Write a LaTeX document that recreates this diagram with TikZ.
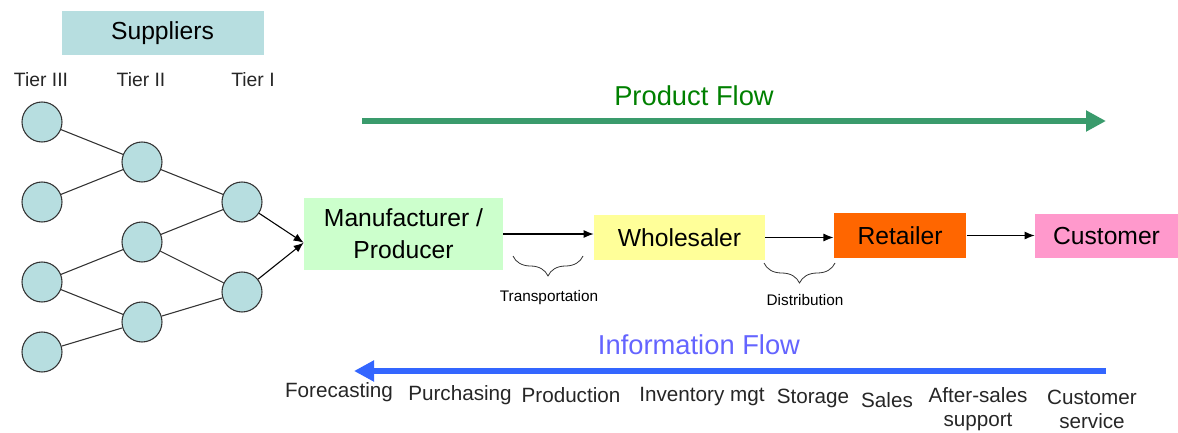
\documentclass[tikz,border=0pt]{standalone}
\usepackage{fontspec}
\setmainfont{Liberation Sans}
\usepackage{tikz}
\usetikzlibrary{arrows,arrows.meta,decorations.pathreplacing}
\definecolor{supblue}{HTML}{B7DEE0}
\definecolor{mangreen}{HTML}{CCFFCC}
\definecolor{wsyellow}{HTML}{FFFF99}
\definecolor{retorange}{HTML}{FF6600}
\definecolor{custpink}{HTML}{FF99CC}
\definecolor{prodarrow}{HTML}{3A9B6C}
\definecolor{prodtext}{HTML}{008000}
\definecolor{infoarrow}{HTML}{3366FF}
\definecolor{infotext}{HTML}{6464FF}

\begin{document}
\begin{tikzpicture}[x=0.75pt,y=-0.75pt,>={Latex[length=7.5pt,width=6pt]},line width=0.8pt]
  \tikzstyle{tier}=[circle,draw=black!80,fill=supblue,minimum size=30pt,inner sep=0pt]
  \tikzstyle{party}=[rectangle,inner sep=0pt,align=center,font=\fontsize{18.5}{24}\selectfont]
  \tikzstyle{tierlabel}=[font=\fontsize{14.5}{17}\selectfont,text=black!85]
  \tikzstyle{task}=[align=center,font=\fontsize{15.5}{18}\selectfont,text=black!85]
  \tikzstyle{gap}=[font=\fontsize{11.5}{13}\selectfont]
  \tikzstyle{flow}=[line width=4.5pt,-{Triangle[length=15pt,width=15pt]}]
  \useasboundingbox (0,0) rectangle (1178,432);

  % suppliers network
  \node[party,fill=supblue,minimum width=151.5pt,minimum height=33pt] (sup) at (162.5,33) {Suppliers};
  \node[tierlabel] (l3) at (41,80) {Tier III};
  \node[tierlabel] (l2) at (141,80) {Tier II};
  \node[tierlabel] (l1) at (253,80) {Tier I};

  \node[tier] (t3a) at (42,122) {};
  \node[tier] (t3b) at (42,202) {};
  \node[tier] (t3c) at (42,282) {};
  \node[tier] (t3d) at (42,352) {};
  \node[tier] (t2a) at (142,162) {};
  \node[tier] (t2b) at (142,242) {};
  \node[tier] (t2c) at (142,322) {};
  \node[tier] (t1a) at (242,202) {};
  \node[tier] (t1b) at (242,292) {};

  % chain
  \node[party,fill=mangreen,minimum width=149pt,minimum height=54pt] (man) at (403.5,234) {Manufacturer /\\Producer};
  \node[party,fill=wsyellow,minimum width=128pt,minimum height=34pt] (whole) at (679.5,237.5) {Wholesaler};
  \node[party,fill=retorange,minimum width=99pt,minimum height=34pt] (retail) at (900,235.5) {Retailer};
  \node[party,fill=custpink,minimum width=107pt,minimum height=33pt] (cust) at (1106.5,236) {Customer};

  \path[draw=black!80]
  (t3a) edge (t2a)
  (t3b) edge (t2a)
  (t3c) edge (t2b)
  (t3c) edge (t2c)
  (t3d) edge (t2c)
  (t2a) edge (t1a)
  (t2b) edge (t1a)
  (t2b) edge (t1b)
  (t2c) edge (t1b);
  \path[->]
  (t1a) edge (man.185)
  (t1b) edge (man.185)
  (man.east) edge (man.east -| whole.west)
  (whole.east) edge (whole.east -| retail.west)
  (retail.east) edge (retail.east -| cust.west);

  % braces under the links
  \draw[decorate,decoration={brace,mirror,amplitude=15pt},line width=0.6pt,black!80] (513,256) -- (583,256);
  \node[gap] (trans) at (549,298) {Transportation};
  \draw[decorate,decoration={brace,mirror,amplitude=15pt},line width=0.6pt,black!80] (764,263) -- (835,263);
  \node[gap] (dist) at (805,300) {Distribution};

  % flows
  \coordinate (pf1) at (362,121);
  \coordinate (pf2) at (1106,121);
  \draw[flow,prodarrow] (pf1) -- (pf2);
  \node[font=\fontsize{20.5}{24}\selectfont,text=prodtext] (pflab) at (694,96) {Product Flow};

  \coordinate (if1) at (1106,371);
  \coordinate (if2) at (354,371);
  \draw[flow,infoarrow] (if1) -- (if2);
  \node[font=\fontsize{20.5}{24}\selectfont,text=infotext] (iflab) at (699,345) {Information Flow};

  \node[task] (fc) at (339,392) {Forecasting};
  \node[task] (pu) at (460,395) {Purchasing};
  \node[task] (pr) at (571,395) {Production};
  \node[task] (inv) at (702,397) {Inventory mgt};
  \node[task] (st) at (813,398) {Storage};
  \node[task] (sa) at (887,400) {Sales};
  \node[task] (as) at (978,409) {After-sales\\support};
  \node[task] (cs) at (1092,409) {Customer\\service};
\end{tikzpicture}
\end{document}
